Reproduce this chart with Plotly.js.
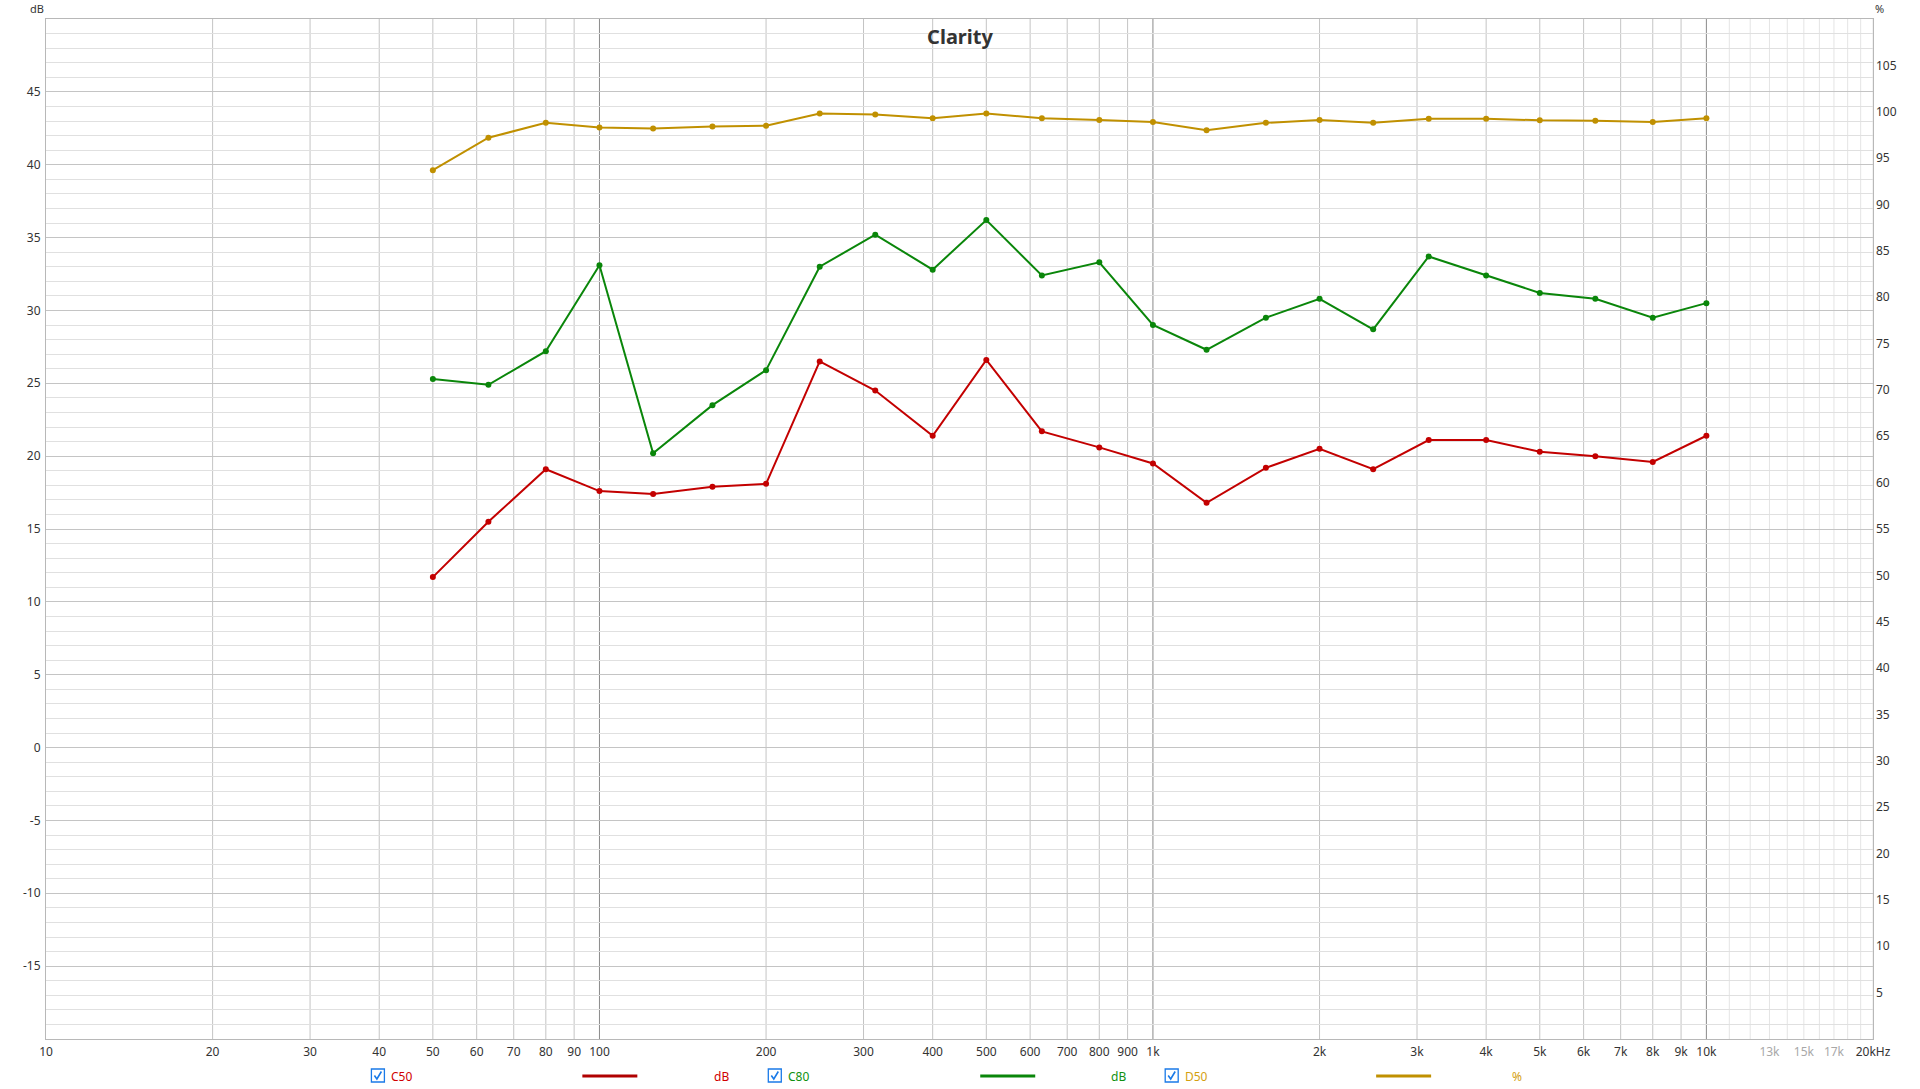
<!DOCTYPE html>
<html>
<head>
<meta charset="utf-8">
<script src="https://cdn.plot.ly/plotly-3.0.1.min.js"></script>
<style>
html,body{margin:0;padding:0;background:#fff;}
#chart{width:1920px;height:1089px;}
</style>
</head>
<body>
<div id="chart"></div>
<script>
// ---- data ----
const freqs = [50,63,80,100,125,160,200,250,315,400,500,630,800,1000,1250,1600,2000,2500,3150,4000,5000,6300,8000,10000];
const c50 = [11.7,15.5,19.1,17.6,17.4,17.9,18.1,26.5,24.5,21.4,26.6,21.7,20.6,19.5,16.8,19.2,20.5,19.1,21.1,21.1,20.3,20.0,19.6,21.4];
const c80 = [25.3,24.9,27.2,33.1,20.2,23.5,25.9,33.0,35.2,32.8,36.2,32.4,33.3,29.0,27.3,29.5,30.8,28.7,33.7,32.4,31.2,30.8,29.5,30.5];
const d50 = [93.7,97.2,98.8,98.3,98.2,98.4,98.5,99.8,99.7,99.3,99.8,99.3,99.1,98.9,98.0,98.8,99.1,98.8,99.25,99.25,99.07,99.03,98.9,99.3];

const xTickVals = [10,20,30,40,50,60,70,80,90,100,200,300,400,500,600,700,800,900,1000,2000,3000,4000,5000,6000,7000,8000,9000,10000,13000,15000,17000,20000];
const xTickText = ['10','20','30','40','50','60','70','80','90','100','200','300','400','500','600','700','800','900','1k','2k','3k','4k','5k','6k','7k','8k','9k','10k','13k','15k','17k','20kHz'];
const xLightLabels = ['13k','15k','17k'];
const yTickVals = [-15,-10,-5,0,5,10,15,20,25,30,35,40,45];
const yTickText = ['-15','-10','-5','0','5','10','15','20','25','30','35','40','45'];
const y2TickVals = [5,10,15,20,25,30,35,40,45,50,55,60,65,70,75,80,85,90,95,100,105];

// ---- colours ----
const RED = '#c30000', GREEN = '#0a860a', GOLD = '#c09000';

// ---- layout geometry (pixels) ----
const W = 1920, H = 1089, L = 45.5, R = 1873, T = 19, B = 1039;
const px = x => (x - L) / (R - L);
const py = y => (B - y) / (B - T);

const traces = [
  {x: freqs, y: c50, name: 'C50', type: 'scatter', mode: 'lines+markers',
   line: {color: RED, width: 2}, marker: {color: RED, size: 6}, yaxis: 'y'},
  {x: freqs, y: c80, name: 'C80', type: 'scatter', mode: 'lines+markers',
   line: {color: GREEN, width: 2}, marker: {color: GREEN, size: 6}, yaxis: 'y'},
  {x: freqs, y: d50, name: 'D50', type: 'scatter', mode: 'lines+markers',
   line: {color: GOLD, width: 2}, marker: {color: GOLD, size: 6}, yaxis: 'y2'}
];

// vertical gridlines
const shapes = [];
function vline(f, color) {
  shapes.push({type: 'line', layer: 'below', xref: 'x', yref: 'paper', x0: f, x1: f, y0: 0, y1: 1,
    line: {color: color, width: 1}});
}
for (let d = 10; d <= 10000; d *= 10) {
  for (let m = 2; m <= 9; m++) {
    const f = d * m;
    if (f < 20 || f > 20000) continue;
    if (d === 10000) vline(f, '#e4e4e4');
    else vline(f, '#c4c4c4');
  }
}
for (let m = 11; m <= 19; m++) vline(m * 1000, '#e4e4e4');
[100, 1000, 10000].forEach(f => vline(f, '#8a8a8a'));

// legend items
const annotations = [];
const LEG_Y = 1076;
function checkbox(x0) {
  const x1 = x0 + 13, y0 = LEG_Y - 7, y1 = LEG_Y + 6;
  shapes.push({type: 'rect', xref: 'paper', yref: 'paper', x0: px(x0), x1: px(x1), y0: py(y1), y1: py(y0),
    line: {color: '#1a7ae8', width: 1.3}, fillcolor: '#ffffff'});
  const path = 'M ' + px(x0 + 3) + ',' + py(LEG_Y - 0.5) + ' L ' + px(x0 + 5.5) + ',' + py(LEG_Y + 3) +
               ' L ' + px(x0 + 10) + ',' + py(LEG_Y - 4.5);
  shapes.push({type: 'path', xref: 'paper', yref: 'paper', path: path, line: {color: '#1a7ae8', width: 1.6}});
}
function legLine(x0, x1, color) {
  shapes.push({type: 'line', xref: 'paper', yref: 'paper', x0: px(x0), x1: px(x1), y0: py(LEG_Y), y1: py(LEG_Y),
    line: {color: color, width: 3}});
}
function legText(x, text, color, anchor) {
  annotations.push({xref: 'paper', yref: 'paper', x: px(x), y: py(LEG_Y), text: text, showarrow: false,
    xanchor: anchor, yanchor: 'middle', font: {family: 'Noto Sans', size: 12, color: color}});
}
checkbox(371); legText(389, 'C50', '#d00000', 'left'); legLine(582, 637, '#b00000'); legText(721, 'dB', '#d00000', 'center');
checkbox(768); legText(786, 'C80', '#109010', 'left'); legLine(980, 1035, '#0a860a'); legText(1118, 'dB', '#109010', 'center');
checkbox(1165); legText(1183, 'D50', '#d4a010', 'left'); legLine(1376, 1431, '#c09000'); legText(1517, '%', '#d4a010', 'center');

// axis unit labels
annotations.push({xref: 'paper', yref: 'paper', x: px(36), y: py(8), text: 'dB', showarrow: false,
  xanchor: 'center', yanchor: 'middle', font: {family: 'Noto Sans', size: 11, color: '#333'}});
annotations.push({xref: 'paper', yref: 'paper', x: px(1880), y: py(8), text: '%', showarrow: false,
  xanchor: 'center', yanchor: 'middle', font: {family: 'Noto Sans', size: 11, color: '#333'}});

const minorY = [];
for (let v = -20; v <= 50; v++) minorY.push(v);

const layout = {
  width: W, height: H,
  margin: {l: L, r: W - R, t: T, b: H - B, pad: 0},
  paper_bgcolor: '#ffffff', plot_bgcolor: '#ffffff',
  showlegend: false,
  font: {family: 'Noto Sans', size: 12, color: '#333'},
  title: {text: '<b>Clarity</b>', x: 0.5, xref: 'container', xanchor: 'center',
    y: 1 - 37 / H, yref: 'container', yanchor: 'middle',
    font: {family: 'Noto Sans', size: 20, color: '#333'}},
  xaxis: {type: 'log', range: [1, Math.log10(20000)], showgrid: false, zeroline: false,
    tickmode: 'array', tickvals: xTickVals,
    ticktext: xTickText.map(t => xLightLabels.includes(t) ? '<span style="color:#a8a8a8">' + t + '</span>' : t),
    ticks: '', ticklabelstandoff: 2, tickfont: {family: 'Noto Sans', size: 12, color: '#333'},
    showline: true, linecolor: '#b8b8b8', linewidth: 1, mirror: true},
  yaxis: {range: [-20, 50], tickmode: 'array', tickvals: yTickVals, ticktext: yTickText,
    showgrid: true, gridcolor: '#c4c4c4', gridwidth: 1, zeroline: false,
    minor: {tickmode: 'array', tickvals: minorY, showgrid: true, gridcolor: '#e0e0e0', gridwidth: 1, ticks: ''},
    ticks: '', ticklabelstandoff: 2, tickfont: {family: 'Noto Sans', size: 12, color: '#333'},
    showline: true, linecolor: '#b8b8b8', linewidth: 1, mirror: true},
  yaxis2: {range: [0, 110], overlaying: 'y', side: 'right', showgrid: false, zeroline: false,
    tickmode: 'array', tickvals: y2TickVals, ticks: '', ticklabelstandoff: 2,
    tickfont: {family: 'Noto Sans', size: 12, color: '#333'}, showline: false},
  shapes: shapes,
  annotations: annotations
};

Plotly.newPlot('chart', traces, layout, {displayModeBar: false, responsive: false});
</script>
</body>
</html>
